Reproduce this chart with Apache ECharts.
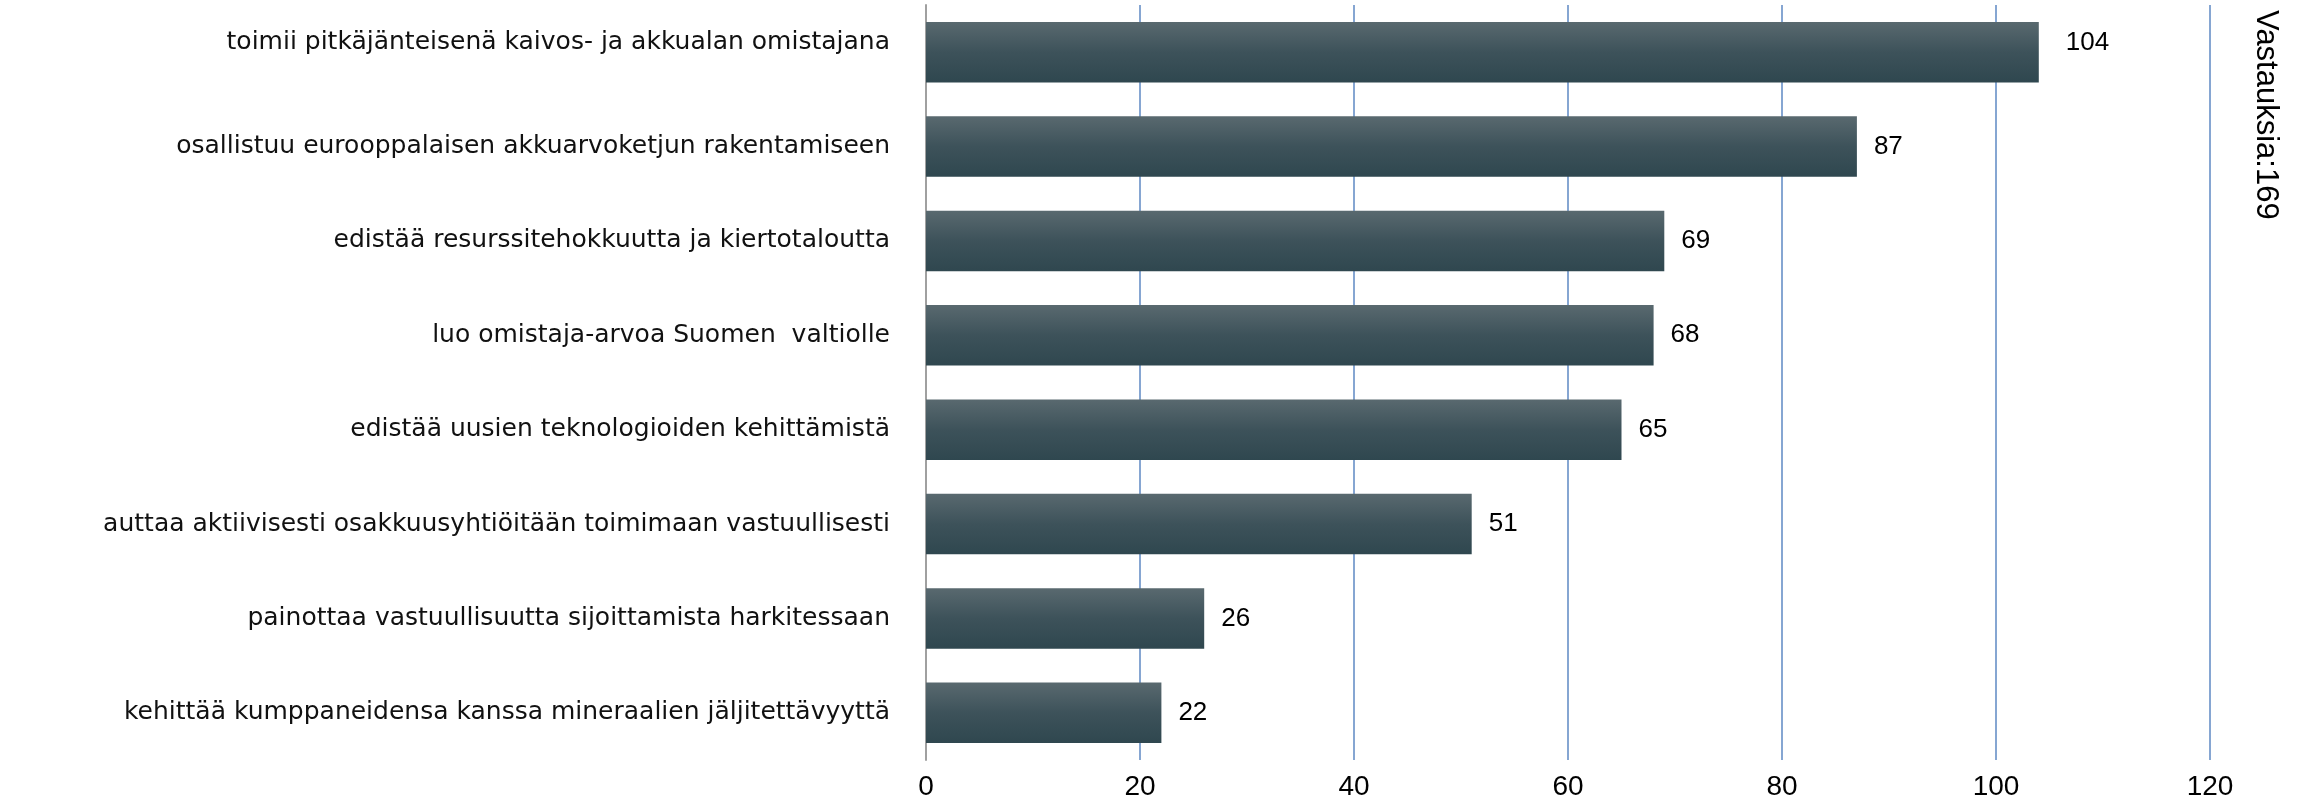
<!DOCTYPE html>
<html>
<head>
<meta charset="utf-8">
<script src="https://cdn.jsdelivr.net/npm/echarts@6/dist/echarts.min.js"></script>
<style>
html, body { margin: 0; padding: 0; background: #fff; }
#main { width: 2303px; height: 801px; }
</style>
</head>
<body>
<div id="main"></div>
<script>
// kategoriat ylhäältä alas
var categories = [
	'toimii pitkäjänteisenä kaivos- ja akkualan omistajana',
	'osallistuu eurooppalaisen akkuarvoketjun rakentamiseen',
	'edistää resurssitehokkuutta ja kiertotaloutta',
	'luo omistaja-arvoa Suomen  valtiolle',
	'edistää uusien teknologioiden kehittämistä',
	'auttaa aktiivisesti osakkuusyhtiöitään toimimaan vastuullisesti',
	'painottaa vastuullisuutta sijoittamista harkitessaan',
	'kehittää kumppaneidensa kanssa mineraalien jäljitettävyyttä'
];
var values = [104, 87, 69, 68, 65, 51, 26, 22];
var axisTicks = [0, 20, 40, 60, 80, 100, 120];
var sideNote = 'Vastauksia:169';

var myChart = echarts.init(document.getElementById('main'));

// ylin rivi on kuvassa hieman koholla
var barData = values.map(function (v, i) {
	if (i === 0) {
		return { value: v, label: { offset: [10, -9] } };
	}
	return v;
});

var option = {
	animation: false,
	grid: {
		left: 926,
		right: 93,
		top: 5,
		bottom: 36
	},
	xAxis: {
		type: 'value',
		min: axisTicks[0],
		max: axisTicks[axisTicks.length - 1],
		interval: 20,
		axisLine: { show: false },
		axisTick: { show: false },
		splitLine: {
			show: true,
			lineStyle: { color: '#86a6d2', width: 2 }
		},
		axisLabel: {
			margin: 13,
			fontFamily: 'Liberation Sans',
			fontSize: 28,
			color: '#000'
		}
	},
	yAxis: {
		type: 'category',
		inverse: true,
		data: categories,
		axisLine: { show: true, lineStyle: { color: '#a0a0a0', width: 2 } },
		axisTick: { show: false },
		axisLabel: {
			margin: 36,
			fontFamily: 'DejaVu Sans',
			fontSize: 25,
			color: '#111',
			formatter: function (val, idx) {
				return idx === 0 ? '{up|' + val + '}' : val;
			},
			rich: {
				up: {
					fontFamily: 'DejaVu Sans',
					fontSize: 25,
					color: '#111',
					padding: [0, 0, 20, 0]
				}
			}
		}
	},
	series: [{
		type: 'bar',
		data: barData,
		barCategoryGap: '36%',
		itemStyle: {
			color: new echarts.graphic.LinearGradient(0, 0, 0, 1, [
				{ offset: 0, color: '#59696f' },
				{ offset: 0.5, color: '#3d525a' },
				{ offset: 1, color: '#2f474f' }
			])
		},
		label: {
			show: true,
			position: 'right',
			distance: 17,
			fontFamily: 'Liberation Sans',
			fontSize: 26,
			color: '#000'
		}
	}],
	graphic: [{
		type: 'text',
		x: 2281,
		y: 10,
		rotation: -Math.PI / 2,
		style: {
			text: sideNote,
			fontFamily: 'Liberation Sans',
			fontSize: 31,
			fill: '#000'
		}
	}]
};

myChart.setOption(option);
window.onresize = myChart.resize;
</script>
</body>
</html>
